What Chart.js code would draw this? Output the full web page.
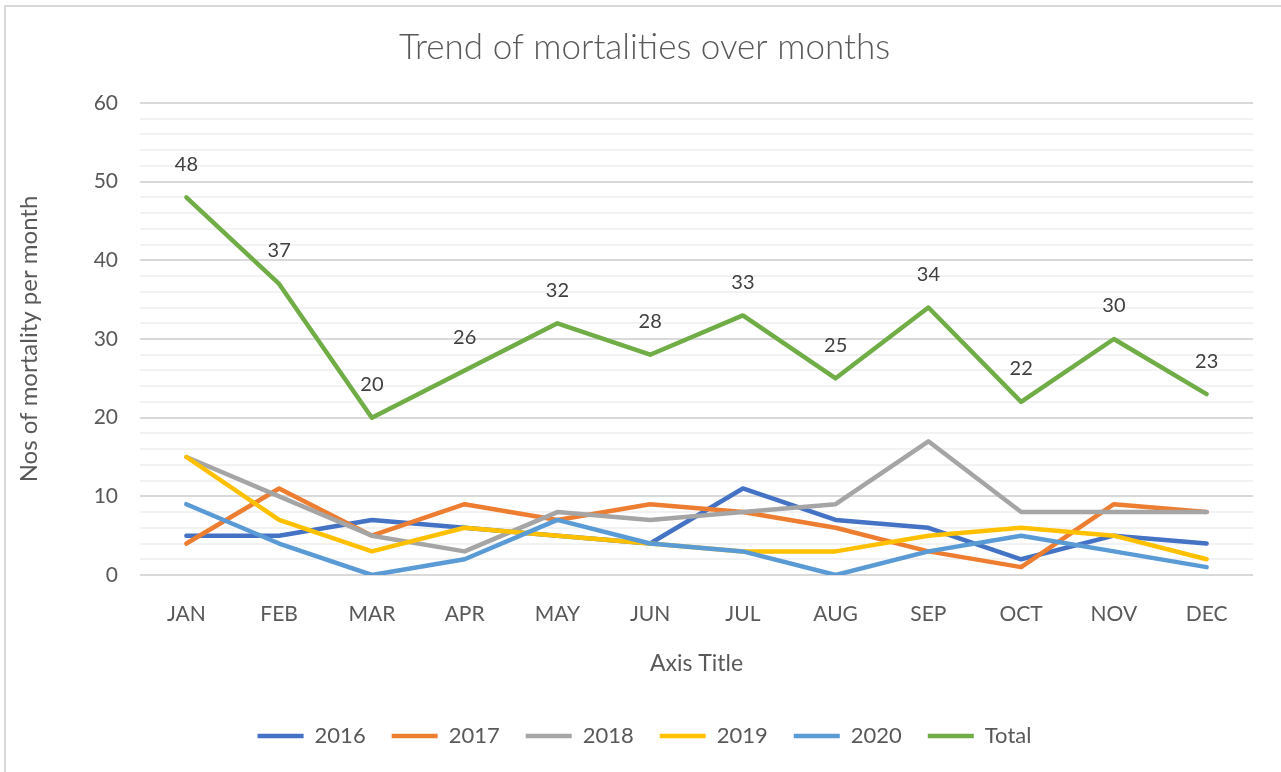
<!DOCTYPE html>
<html>
<head>
<meta charset="utf-8">
<script src="https://cdn.jsdelivr.net/npm/chart.js@4/dist/chart.umd.min.js"></script>
<style>
  body { margin: 0; background: #fff; overflow: hidden; }
  #wrap { position: absolute; left: 0; top: 0; width: 1281px; height: 772px; }
</style>
</head>
<body>
<div id="wrap"><canvas id="chart" width="1281" height="772"></canvas></div>
<script>
// chart data
const months = ['JAN', 'FEB', 'MAR', 'APR', 'MAY', 'JUN', 'JUL', 'AUG', 'SEP', 'OCT', 'NOV', 'DEC'];
const y2016 = [5, 5, 7, 6, 5, 4, 11, 7, 6, 2, 5, 4];
const y2017 = [4, 11, 5, 9, 7, 9, 8, 6, 3, 1, 9, 8];
const y2018 = [15, 10, 5, 3, 8, 7, 8, 9, 17, 8, 8, 8];
const y2019 = [15, 7, 3, 6, 5, 4, 3, 3, 5, 6, 5, 2];
const y2020 = [9, 4, 0, 2, 7, 4, 3, 0, 3, 5, 3, 1];
const total = [48, 37, 20, 26, 32, 28, 33, 25, 34, 22, 30, 23];

const FONT = 'Lato, "Liberation Sans", sans-serif';
const TEXT = '#595959';

function series(label, data, color, order) {
    return {
        label: label,
        data: data,
        borderColor: color,
        backgroundColor: color,
        borderWidth: 4.5,
        borderCapStyle: 'round',
        borderJoinStyle: 'round',
        pointRadius: 0,
        pointHoverRadius: 0,
        tension: 0,
        order: order
    };
}

// frame around the chart like the office chart border
const framePlugin = {
    id: 'frame',
    beforeDraw(chart) {
        const ctx = chart.ctx;
        ctx.save();
        ctx.strokeStyle = '#d9d9d9';
        ctx.lineWidth = 2;
        ctx.strokeRect(5, 6, 1290, 780);
        ctx.restore();
    }
};

// value labels above the Total line
const totalLabels = {
    id: 'totalLabels',
    afterDatasetsDraw(chart) {
        const idx = chart.data.datasets.findIndex(d => d.label === 'Total');
        const meta = chart.getDatasetMeta(idx);
        const ctx = chart.ctx;
        ctx.save();
        ctx.font = '20px ' + FONT;
        ctx.fillStyle = '#404040';
        ctx.textAlign = 'center';
        ctx.textBaseline = 'middle';
        meta.data.forEach((pt, i) => {
            ctx.fillText(String(total[i]), pt.x, pt.y - 33);
        });
        ctx.restore();
    }
};

document.addEventListener('DOMContentLoaded', function() {
    const ctx = document.getElementById('chart').getContext('2d');
    new Chart(ctx, {
        type: 'line',
        data: {
            labels: months,
            datasets: [
                series('2016', y2016, '#4472C4', 5),
                series('2017', y2017, '#ED7D31', 4),
                series('2018', y2018, '#A5A5A5', 3),
                series('2019', y2019, '#FFC000', 2),
                series('2020', y2020, '#5B9BD5', 1),
                series('Total', total, '#70AD47', 0)
            ]
        },
        options: {
            responsive: false,
            animation: false,
            layout: { padding: { top: 0, right: 0, bottom: 15, left: 8 } },
            plugins: {
                title: {
                    display: true,
                    text: 'Trend of mortalities over months',
                    color: TEXT,
                    font: { family: FONT, size: 35, weight: 300 },
                    padding: { top: 27, bottom: 34 }
                },
                legend: {
                    position: 'bottom',
                    labels: {
                        usePointStyle: true,
                        pointStyle: 'line',
                        pointStyleWidth: 46,
                        boxWidth: 46,
                        color: TEXT,
                        font: { family: FONT, size: 22 },
                        padding: 26,
                        sort: (a, b) => a.datasetIndex - b.datasetIndex
                    }
                },
                tooltip: { enabled: false }
            },
            scales: {
                x: {
                    offset: true,
                    grid: { display: false, drawTicks: false },
                    border: { display: false },
                    ticks: { color: TEXT, font: { family: FONT, size: 21 }, padding: 27 },
                    title: {
                        display: true,
                        text: 'Axis Title',
                        color: TEXT,
                        font: { family: FONT, size: 23 },
                        padding: { top: 14, bottom: 22 }
                    },
                    afterFit(scale) { scale.height = 124; }
                },
                y: {
                    min: 0,
                    max: 60,
                    grid: {
                        drawTicks: false,
                        lineWidth: 2,
                        color: c => (c.tick.value % 10 === 0 ? '#d9d9d9' : '#f2f2f2')
                    },
                    border: { display: false },
                    ticks: {
                        stepSize: 2,
                        autoSkip: false,
                        color: TEXT,
                        font: { family: FONT, size: 21 },
                        padding: 22,
                        callback: v => (v % 10 === 0 ? v : '')
                    },
                    title: {
                        display: true,
                        text: 'Nos of mortality per month',
                        color: TEXT,
                        font: { family: FONT, size: 24 },
                        padding: { top: 7, bottom: 0 }
                    },
                    afterFit(scale) { scale.width = 132; }
                },
                // empty right-hand spacer so the plot stops short of the frame
                spacer: {
                    type: 'linear',
                    position: 'right',
                    grid: { display: false, drawTicks: false },
                    border: { display: false },
                    ticks: { display: false },
                    afterFit(scale) { scale.width = 28; }
                }
            }
        },
        plugins: [framePlugin, totalLabels]
    });
});
</script>
</body>
</html>
